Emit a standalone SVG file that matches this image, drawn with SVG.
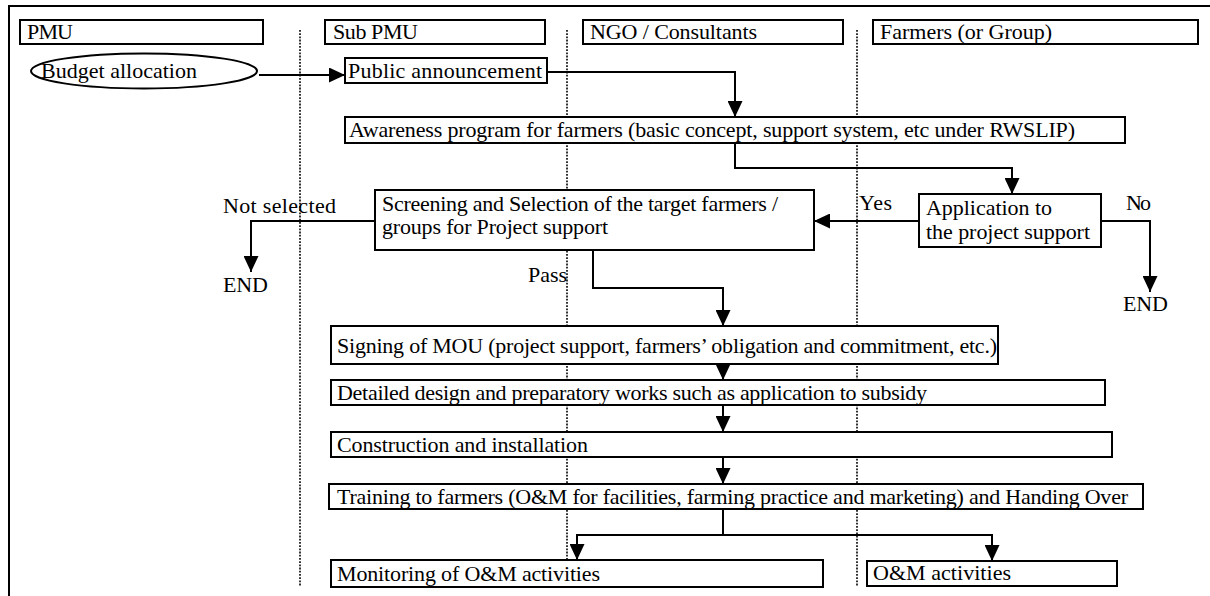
<svg xmlns="http://www.w3.org/2000/svg" width="1210" height="596" viewBox="0 0 1210 596">
  <defs>
    <style>
      .box{fill:#fff;stroke:#000;stroke-width:2}
      .lane{fill:none;stroke:#000;stroke-width:1.6;stroke-dasharray:1.8 1.4}
      .conn{fill:none;stroke:#000;stroke-width:2}
      .frame{fill:none;stroke:#000;stroke-width:2}
      text{font-family:"Liberation Serif","Times New Roman",serif;font-size:22px;fill:#000}
    </style>
    <marker id="arrow" markerUnits="userSpaceOnUse" markerWidth="17" markerHeight="15" refX="16" refY="7.5" orient="auto">
      <path d="M0,0 L16,7.5 L0,15 Z" fill="#000"/>
    </marker>
  </defs>

  <rect width="1210" height="596" fill="#fff"/>
  <path class="frame" d="M9,596 V6 H1210"/>

  <!-- swimlane separators -->
  <g id="lanes">
    <line class="lane" x1="300" y1="30" x2="300" y2="586"/>
    <line class="lane" x1="567" y1="30" x2="567" y2="586"/>
    <line class="lane" x1="857" y1="30" x2="857" y2="586"/>
  </g>

  <!-- lane headers -->
  <g id="hdr-pmu"><rect class="box" x="20" y="20" width="243" height="24"/><text x="27" y="39" textLength="46">PMU</text></g>
  <g id="hdr-subpmu"><rect class="box" x="325" y="20" width="220" height="24"/><text x="333" y="39" textLength="85">Sub PMU</text></g>
  <g id="hdr-ngo"><rect class="box" x="583" y="20" width="260" height="24"/><text x="590" y="39" textLength="167">NGO / Consultants</text></g>
  <g id="hdr-farmers"><rect class="box" x="873" y="20" width="325" height="24"/><text x="880" y="39" textLength="172">Farmers (or Group)</text></g>

  <!-- connectors -->
  <g id="connectors">
    <path class="conn" d="M259,75 H345" marker-end="url(#arrow)"/>
    <path class="conn" d="M547,72 H735 V117" marker-end="url(#arrow)"/>
    <path class="conn" d="M735,143 V168 H1012 V194" marker-end="url(#arrow)"/>
    <path class="conn" d="M919,221 H814" marker-end="url(#arrow)"/>
    <path class="conn" d="M1101,221 H1150 V292" marker-end="url(#arrow)"/>
    <path class="conn" d="M375,221 H251 V272" marker-end="url(#arrow)"/>
    <path class="conn" d="M593,250 V288 H723 V326" marker-end="url(#arrow)"/>
    <path class="conn" d="M723,364 V380" marker-end="url(#arrow)"/>
    <path class="conn" d="M723,405 V432" marker-end="url(#arrow)"/>
    <path class="conn" d="M723,457 V484" marker-end="url(#arrow)"/>
    <path class="conn" d="M723,509 V535 H577 V560" marker-end="url(#arrow)"/>
    <path class="conn" d="M723,535 H992 V561" marker-end="url(#arrow)"/>
  </g>

  <!-- connector labels -->
  <g id="labels">
    <text x="223" y="213" textLength="113">Not selected</text>
    <text x="223" y="292" textLength="45">END</text>
    <text x="859" y="210" textLength="33">Yes</text>
    <text x="1126" y="210" textLength="25">No</text>
    <text x="1123" y="311" textLength="45">END</text>
    <text x="528" y="282" textLength="39">Pass</text>
  </g>

  <!-- process steps -->
  <g id="budget"><ellipse class="box" cx="144" cy="71" rx="113" ry="17.5"/><text x="41" y="78" textLength="156">Budget allocation</text></g>
  <g id="announcement"><rect class="box" x="345" y="58" width="202" height="25"/><text x="348" y="78" textLength="194">Public announcement</text></g>
  <g id="awareness"><rect class="box" x="345" y="117" width="780" height="26"/><text x="349" y="137" textLength="726">Awareness program for farmers (basic concept, support system, etc under RWSLIP)</text></g>
  <g id="screening"><rect class="box" x="375" y="190" width="439" height="60"/>
    <text x="382" y="211" textLength="396">Screening and Selection of the target farmers /</text>
    <text x="382" y="234" textLength="226">groups for Project support</text></g>
  <g id="application"><rect class="box" x="919" y="194" width="182" height="53"/>
    <text x="926" y="215" textLength="126">Application to</text>
    <text x="926" y="239" textLength="164">the project support</text></g>
  <g id="mou"><rect class="box" x="331" y="326" width="667" height="38"/><text x="337" y="353" textLength="660">Signing of MOU (project support, farmers’ obligation and commitment, etc.)</text></g>
  <g id="design"><rect class="box" x="331" y="380" width="774" height="25"/><text x="337" y="400" textLength="590">Detailed design and preparatory works such as application to subsidy</text></g>
  <g id="construction"><rect class="box" x="331" y="432" width="781" height="25"/><text x="337" y="452" textLength="251">Construction and installation</text></g>
  <g id="training"><rect class="box" x="329" y="484" width="814" height="25"/><text x="337" y="504" textLength="791">Training to farmers (O&amp;M for facilities, farming practice and marketing) and Handing Over</text></g>
  <g id="monitoring"><rect class="box" x="331" y="560" width="492" height="27"/><text x="337" y="581" textLength="263">Monitoring of O&amp;M activities</text></g>
  <g id="om"><rect class="box" x="867" y="561" width="250" height="25"/><text x="873" y="580" textLength="138">O&amp;M activities</text></g>
</svg>
